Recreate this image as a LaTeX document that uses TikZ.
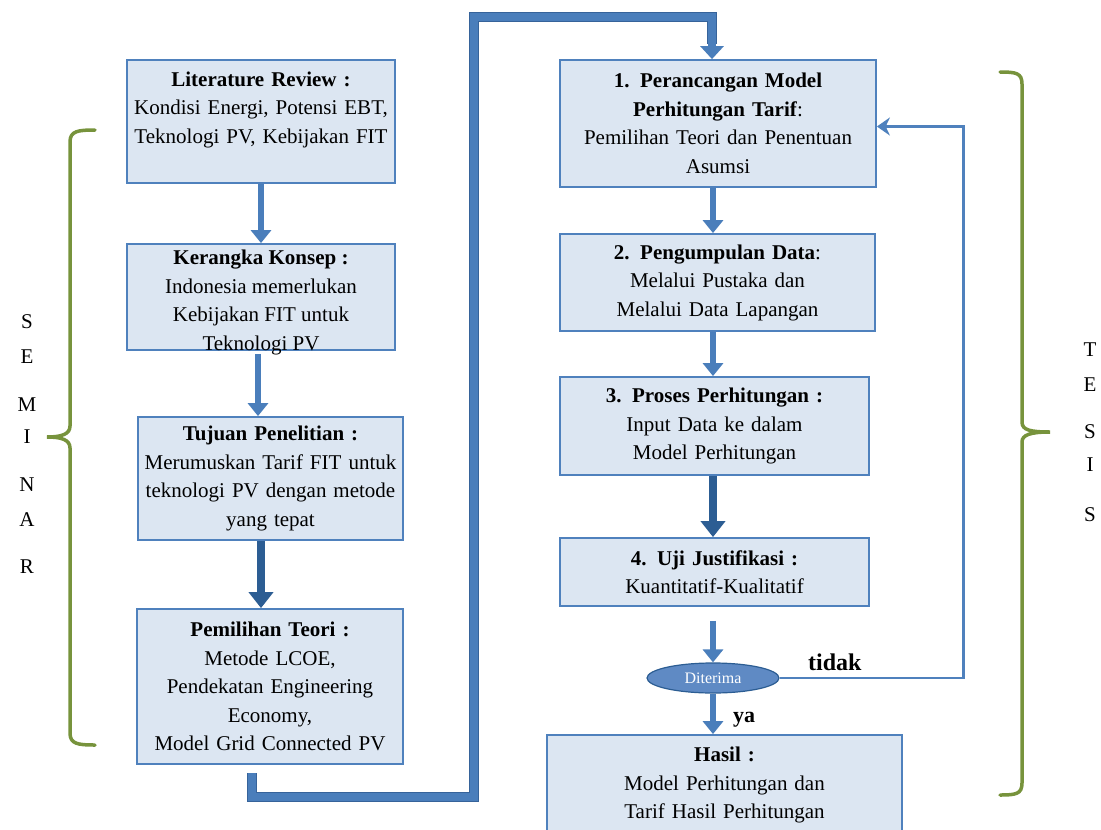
\documentclass[tikz,border=0pt]{standalone}
\usepackage{fontspec}
\setmainfont{Liberation Serif}
\usetikzlibrary{arrows.meta,calc,shapes.geometric}
\definecolor{boxfill}{HTML}{DCE6F2}
\definecolor{boxline}{HTML}{4F81BD}
\definecolor{flow}{HTML}{4A7EBB}
\definecolor{flowdark}{HTML}{2C5D93}
\definecolor{pipeedge}{HTML}{36639A}
\definecolor{bracegreen}{HTML}{77933C}
\definecolor{ovalfill}{HTML}{5F8AC4}
\newcommand\bodysz{\fontsize{21}{28.5}\selectfont}
\tikzset{
  box/.style={draw=boxline, fill=boxfill, line width=1.8pt, inner sep=0pt,
    align=center, font=\bodysz},
  flowarrow/.style={draw=flow, line width=6.5pt,
    -{Triangle[width=20pt,length=13pt]}},
  flowarrowdark/.style={draw=flowdark, line width=8.5pt,
    -{Triangle[width=24pt,length=16pt]}},
  pipe/.style={draw=flow, line width=8pt, line join=miter,
    preaction={draw=pipeedge, line width=10pt}},
  loopline/.style={draw=boxline, line width=2.8pt,
    -{Stealth[width=18pt,length=13pt]}},
  brace/.style={draw=bracegreen, line width=3.5pt, line cap=round},
  sideletter/.style={font=\fontsize{21}{21}\selectfont, inner sep=0pt},
}
\begin{document}
\begin{tikzpicture}[x=1pt, y=-1pt]
\useasboundingbox (0,0) rectangle (1101,830);
\clip (0,0) rectangle (1101,830);

% left column
\node[box, minimum width=268pt, minimum height=123pt, text width=262pt] (L1) at (261,121.5)
  {\textbf{Literature Review :}\\ Kondisi Energi, Potensi EBT,\\ Teknologi PV, Kebijakan FIT\\ \mbox{}};
% the text of this box runs down to its lower edge
\node[draw=boxline, fill=boxfill, line width=1.8pt, inner sep=0pt, font=\bodysz,
  minimum width=268pt, minimum height=106pt] (L2) at (261,297)
  {\raisebox{-10pt}[0pt][0pt]{\begin{tabular}{@{}c@{}}\textbf{Kerangka Konsep :}\\ Indonesia memerlukan\\ Kebijakan FIT untuk\\ Teknologi PV\end{tabular}}};
\node[box, minimum width=265pt, minimum height=123pt, text width=260pt] (L3) at (270.5,478.5)
  {\textbf{Tujuan Penelitian :}\\ Merumuskan Tarif FIT untuk\\ teknologi PV dengan metode\\ yang tepat};
\node[box, minimum width=266pt, minimum height=155pt, text width=260pt] (L4) at (270,686.5)
  {\textbf{Pemilihan Teori :}\\ Metode LCOE,\\ Pendekatan Engineering\\ Economy,\\ Model Grid Connected PV};

% right column
\node[box, minimum width=316pt, minimum height=127pt, text width=308pt] (R1) at (718,123.5)
  {\textbf{1. Perancangan Model}\\ \textbf{Perhitungan Tarif}:\\ Pemilihan Teori dan Penentuan\\ Asumsi};
\node[box, minimum width=315pt, minimum height=97pt, text width=308pt] (R2) at (717.5,282.5)
  {\textbf{2. Pengumpulan Data}:\\ Melalui Pustaka dan\\ Melalui Data Lapangan};
\node[box, minimum width=309pt, minimum height=98pt, text width=302pt] (R3) at (714.5,426)
  {\textbf{3. Proses Perhitungan :}\\ Input Data ke dalam\\ Model Perhitungan};
\node[box, minimum width=309pt, minimum height=68pt, text width=302pt] (R4) at (714.5,572)
  {\textbf{4. Uji Justifikasi :}\\ Kuantitatif-Kualitatif};
\node[draw=flowdark, fill=ovalfill, ellipse, line width=1.2pt, minimum width=132pt,
  minimum height=30pt, inner sep=0pt, text=white, font=\fontsize{16}{16}\selectfont]
  (D) at (713,678) {Diterima};
\node[box, minimum width=355pt, minimum height=100pt, text width=348pt] (H) at (724.5,785)
  {\textbf{Hasil :}\\ Model Perhitungan dan\\ Tarif Hasil Perhitungan};

% left column arrows
\draw[flowarrow] (L1.south) -- (L1.south |- L2.north);
\draw[flowarrow] ([xshift=-3pt,yshift=-3pt]L2.south) -- ([xshift=-3pt]L2.south |- L3.north);
\draw[flowarrowdark] (L3.south -| L1.south) -- (L1.south |- L4.north);

% right column arrows
\draw[flowarrow] (R1.south -| D.north) -- (D.north |- R2.north);
\draw[flowarrow] (R2.south -| D.north) -- (D.north |- R3.north);
\draw[flowarrowdark] (R3.south -| D.north) -- (D.north |- R4.north);
\draw[flowarrow] ([yshift=-14pt]R4.south -| D.north) -- (D.north);
\draw[flowarrow] (D.south) -- (D.south |- H.north);
\node[font=\fontsize{22}{22}\selectfont\bfseries, anchor=base west, inner sep=0pt] (ya) at (733,722) {ya};

% connector from the seminar part to the thesis part
\coordinate (p0) at (252,773);
\draw[pipe] (p0) -- (252,797) -- (474,797) -- (474,17) -- (712,17) -- (712,44);
\draw[draw=flow, line width=8pt, -{Triangle[width=23pt,length=13pt]}] (712,40) -- ([xshift=-6pt]R1.north);

% rejection loop back to step 1
\draw[loopline] (D.east) -- ++(184,0) |- ([yshift=-3pt]R1.east);
\node[font=\fontsize{24}{24}\selectfont\bfseries, anchor=base west, inner sep=0pt] (tidak) at (808,670) {tidak};

% braces
\draw[brace] (95,130) .. controls (78,130) and (70,131) .. (70,142) -- (70,426)
  .. controls (70,434) and (62,437) .. (47,437)
  .. controls (62,437) and (70,440) .. (70,448) -- (70,733)
  .. controls (70,744) and (78,745) .. (95,745);
\draw[brace] (1000,72) .. controls (1016,72) and (1022,73) .. (1022,84) -- (1022,422)
  .. controls (1022,430) and (1030,432) .. (1050,432)
  .. controls (1030,432) and (1022,435) .. (1022,442) -- (1022,783)
  .. controls (1022,794) and (1016,795) .. (1000,795);

% side labels
\foreach \ch/\yy [count=\i] in {S/322,E/357,M/405,I/437,N/485,A/520,R/567}
  \node[sideletter] (sem\i) at (27,\yy) {\ch};
\foreach \ch/\yy [count=\i] in {T/350,E/385,S/432,I/465,S/515}
  \node[sideletter] (tes\i) at (1090,\yy) {\ch};
\end{tikzpicture}
\end{document}
